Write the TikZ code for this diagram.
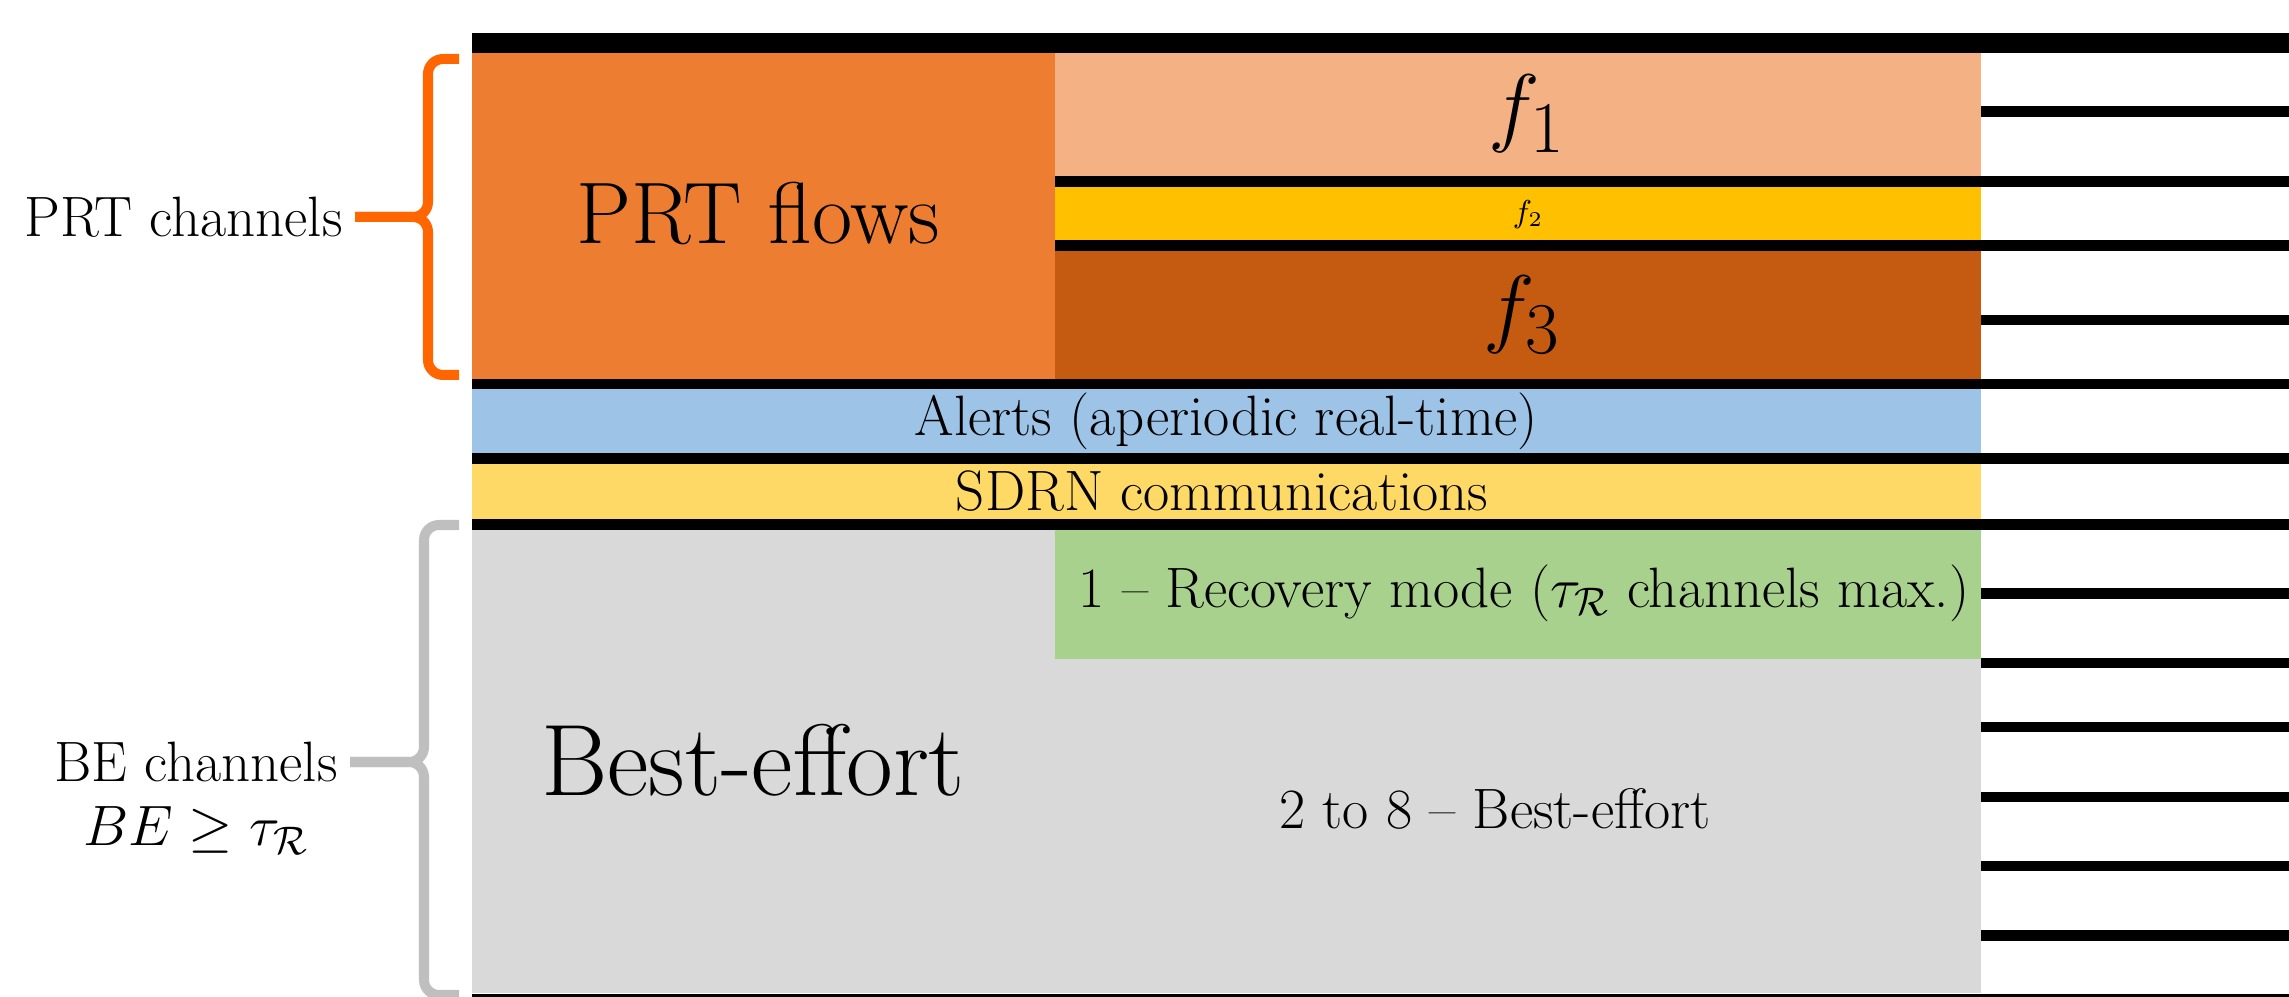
\RequirePackage{fix-cm}
\documentclass[tikz,border=0pt]{standalone}
\usepackage[]{color}
\usepackage{tikz}
\definecolor{prtorange}{HTML}{ED7D31}
\definecolor{fonecol}{HTML}{F4B183}
\definecolor{ftwocol}{HTML}{FFC000}
\definecolor{fthreecol}{HTML}{C55A11}
\definecolor{alertblue}{HTML}{9DC3E6}
\definecolor{sdrnyellow}{HTML}{FFD966}
\definecolor{begray}{HTML}{D9D9D9}
\definecolor{recgreen}{HTML}{A9D18E}
\definecolor{prtbrace}{HTML}{FF6600}
\definecolor{bebrace}{HTML}{BFBFBF}
\newcommand{\lblsize}{\fontsize{16.2}{19.5}\selectfont}

\begin{document}
\begin{tikzpicture}[chan/.style = {line width = 3pt},
  brace/.style = {line width = 2.85pt, rounded corners = 0.15cm}]
\useasboundingbox (0, 0) rectangle (22.89, -9.97);
% channel blocks
\fill[color = prtorange] (4.72, -0.53) rectangle (10.55, -3.79);
\fill[color = fonecol] (10.55, -0.53) rectangle (19.81, -1.76);
\fill[color = ftwocol] (10.55, -1.87) rectangle (19.81, -2.40);
\fill[color = fthreecol] (10.55, -2.51) rectangle (19.81, -3.79);
\fill[color = alertblue] (4.72, -3.89) rectangle (19.81, -4.53);
\fill[color = sdrnyellow] (4.72, -4.64) rectangle (19.81, -5.19);
\fill[color = begray] (4.72, -5.30) rectangle (19.81, -9.93);
\fill[color = recgreen] (10.55, -5.30) rectangle (19.81, -6.59);
% channel separators
\fill (4.72, -0.33) rectangle (23, -0.53);
\foreach \y in {-3.84, -4.585, -5.245, -9.99}
  \draw[chan] (4.72, \y) -- (23, \y);
\foreach \y in {-1.815, -2.455}
  \draw[chan] (10.55, \y) -- (23, \y);
\foreach \y in {-1.115, -3.20, -5.935, -6.63, -7.27, -7.97, -8.66, -9.355}
  \draw[chan] (19.81, \y) -- (23, \y);
% texts in the blocks
\node (prtflows) at (7.58, -2.14) {\Huge PRT flows};
\node (fone) at (15.27, -1.14) {\Huge $f_1$};
\node (ftwo) at (15.28, -2.15) {\small $f_2$};
\node (fthree) at (15.22, -3.15) {\Huge $f_3$};
\node (alerts) at (12.26, -4.21) {\lblsize Alerts (aperiodic real-time)};
\node (sdrn) at (12.22, -4.91) {\lblsize SDRN communications};
\node (recovery) at (15.24, -5.93)
  {\lblsize 1 -- Recovery mode ($\tau_{\mathcal{R}}$ channels max.)};
\node (besteffort) at (7.53, -7.60) {\fontsize{28.9}{34}\selectfont Best-effort};
\node (twotoeight) at (14.95, -8.09) {\lblsize 2 to 8 -- Best-effort};
% braces
\coordinate (prttip) at (3.55, -2.17);
\coordinate (betip) at (3.50, -7.62);
\draw[brace, color = prtbrace] (4.59, -0.59) -- (4.28, -0.59) -- (4.28, -2.17) -- (prttip);
\draw[brace, color = prtbrace] (4.59, -3.75) -- (4.28, -3.75) -- (4.28, -2.17) -- (prttip);
\draw[brace, color = bebrace] (4.59, -5.25) -- (4.24, -5.25) -- (4.24, -7.62) -- (betip);
\draw[brace, color = bebrace] (4.59, -9.95) -- (4.24, -9.95) -- (4.24, -7.62) -- (betip);
\node (prtlabel) at (prttip) [left] {\lblsize PRT channels};
\node (belabel) at (betip) [left] {\lblsize BE channels};
\node (becond) at (belabel.south) [below] {\lblsize $BE \geq \tau_{\mathcal{R}}$};
\end{tikzpicture}
\end{document}
